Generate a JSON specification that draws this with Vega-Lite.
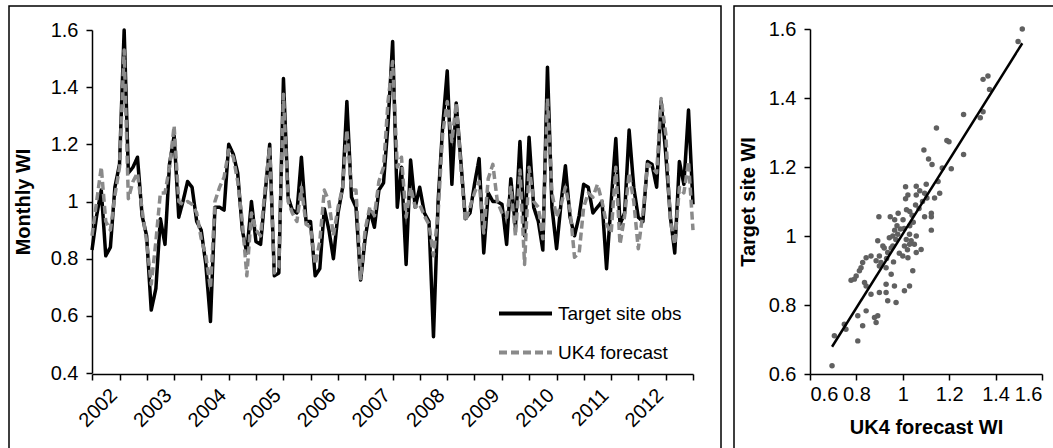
{
  "$schema": "https://vega.github.io/schema/vega-lite/v6.json",
  "padding": {"left": 8, "top": 5, "right": 0, "bottom": 0},
  "autosize": {"type": "pad"},
  "spacing": 11,
  "config": {
    "view": {"stroke": "#000000", "strokeWidth": 1.5},
    "font": "Liberation Sans",
    "axis": {"grid": false, "domainColor": "#000000", "domainWidth": 1.5, "tickColor": "#000000", "tickWidth": 1.5, "tickSize": 6, "labelColor": "#000000", "labelFont": "Liberation Sans", "labelFontSize": 20, "titleFont": "Liberation Sans", "titleFontSize": 20, "titleFontWeight": "bold", "titleColor": "#000000"},
    "legend": {"labelFont": "Liberation Sans", "labelFontSize": 19, "labelColor": "#000000"}
  },
  "datasets": {
    "ts": [
      {"m":"2001-07","obs":0.83,"fc":0.88},{"m":"2001-08","obs":0.95,"fc":1.0},{"m":"2001-09","obs":1.04,"fc":1.12},{"m":"2001-10","obs":0.81,"fc":0.93},{"m":"2001-11","obs":0.84,"fc":0.9},{"m":"2001-12","obs":1.05,"fc":1.02},
      {"m":"2002-01","obs":1.13,"fc":1.12},{"m":"2002-02","obs":1.6,"fc":1.53},{"m":"2002-03","obs":1.1,"fc":1.01},{"m":"2002-04","obs":1.12,"fc":1.07},{"m":"2002-05","obs":1.155,"fc":1.1},{"m":"2002-06","obs":0.95,"fc":0.97},{"m":"2002-07","obs":0.88,"fc":0.86},{"m":"2002-08","obs":0.62,"fc":0.71},{"m":"2002-09","obs":0.695,"fc":0.86},{"m":"2002-10","obs":0.94,"fc":1.03},{"m":"2002-11","obs":0.85,"fc":1.03},{"m":"2002-12","obs":1.13,"fc":1.12},
      {"m":"2003-01","obs":1.23,"fc":1.265},{"m":"2003-02","obs":0.945,"fc":1.0},{"m":"2003-03","obs":1.0,"fc":0.99},{"m":"2003-04","obs":1.07,"fc":1.0},{"m":"2003-05","obs":1.05,"fc":0.99},{"m":"2003-06","obs":0.93,"fc":0.96},{"m":"2003-07","obs":0.9,"fc":0.87},{"m":"2003-08","obs":0.78,"fc":0.81},{"m":"2003-09","obs":0.58,"fc":0.695},{"m":"2003-10","obs":0.98,"fc":1.0},{"m":"2003-11","obs":0.98,"fc":1.05},{"m":"2003-12","obs":0.97,"fc":1.085},
      {"m":"2004-01","obs":1.2,"fc":1.18},{"m":"2004-02","obs":1.165,"fc":1.155},{"m":"2004-03","obs":1.1,"fc":1.07},{"m":"2004-04","obs":0.9,"fc":0.93},{"m":"2004-05","obs":0.82,"fc":0.74},{"m":"2004-06","obs":1.0,"fc":0.96},{"m":"2004-07","obs":0.86,"fc":0.9},{"m":"2004-08","obs":0.85,"fc":0.88},{"m":"2004-09","obs":1.03,"fc":1.05},{"m":"2004-10","obs":1.2,"fc":1.19},{"m":"2004-11","obs":0.74,"fc":0.75},{"m":"2004-12","obs":0.75,"fc":0.77},
      {"m":"2005-01","obs":1.43,"fc":1.375},{"m":"2005-02","obs":1.015,"fc":1.0},{"m":"2005-03","obs":0.97,"fc":0.96},{"m":"2005-04","obs":0.96,"fc":0.93},{"m":"2005-05","obs":1.155,"fc":1.05},{"m":"2005-06","obs":0.93,"fc":0.92},{"m":"2005-07","obs":0.93,"fc":0.91},{"m":"2005-08","obs":0.74,"fc":0.78},{"m":"2005-09","obs":0.765,"fc":0.86},{"m":"2005-10","obs":0.975,"fc":1.04},{"m":"2005-11","obs":0.9,"fc":1.0},{"m":"2005-12","obs":0.8,"fc":0.88},
      {"m":"2006-01","obs":0.96,"fc":0.98},{"m":"2006-02","obs":1.05,"fc":1.05},{"m":"2006-03","obs":1.35,"fc":1.25},{"m":"2006-04","obs":1.015,"fc":1.04},{"m":"2006-05","obs":0.98,"fc":1.04},{"m":"2006-06","obs":0.725,"fc":0.73},{"m":"2006-07","obs":0.87,"fc":0.9},{"m":"2006-08","obs":0.97,"fc":0.98},{"m":"2006-09","obs":0.91,"fc":0.95},{"m":"2006-10","obs":1.04,"fc":1.07},{"m":"2006-11","obs":1.065,"fc":1.12},{"m":"2006-12","obs":1.27,"fc":1.35},
      {"m":"2007-01","obs":1.56,"fc":1.49},{"m":"2007-02","obs":0.98,"fc":1.12},{"m":"2007-03","obs":1.12,"fc":1.155},{"m":"2007-04","obs":0.78,"fc":0.945},{"m":"2007-05","obs":1.145,"fc":1.05},{"m":"2007-06","obs":0.98,"fc":0.98},{"m":"2007-07","obs":1.05,"fc":0.99},{"m":"2007-08","obs":0.96,"fc":0.95},{"m":"2007-09","obs":0.93,"fc":0.92},{"m":"2007-10","obs":0.527,"fc":0.81},{"m":"2007-11","obs":1.0,"fc":0.96},{"m":"2007-12","obs":1.26,"fc":1.235},
      {"m":"2008-01","obs":1.457,"fc":1.35},{"m":"2008-02","obs":1.06,"fc":1.21},{"m":"2008-03","obs":1.345,"fc":1.345},{"m":"2008-04","obs":1.14,"fc":1.12},{"m":"2008-05","obs":0.94,"fc":0.93},{"m":"2008-06","obs":0.96,"fc":0.98},{"m":"2008-07","obs":1.06,"fc":1.03},{"m":"2008-08","obs":1.15,"fc":1.07},{"m":"2008-09","obs":0.82,"fc":0.89},{"m":"2008-10","obs":1.03,"fc":1.08},{"m":"2008-11","obs":1.0,"fc":1.13},{"m":"2008-12","obs":1.0,"fc":1.0},
      {"m":"2009-01","obs":0.99,"fc":0.96},{"m":"2009-02","obs":0.85,"fc":0.945},{"m":"2009-03","obs":1.08,"fc":1.05},{"m":"2009-04","obs":0.91,"fc":0.88},{"m":"2009-05","obs":1.21,"fc":1.11},{"m":"2009-06","obs":0.88,"fc":0.78},{"m":"2009-07","obs":1.225,"fc":1.12},{"m":"2009-08","obs":0.98,"fc":1.0},{"m":"2009-09","obs":0.93,"fc":0.98},{"m":"2009-10","obs":0.83,"fc":0.87},{"m":"2009-11","obs":1.47,"fc":1.36},{"m":"2009-12","obs":0.98,"fc":1.03},
      {"m":"2010-01","obs":0.835,"fc":0.945},{"m":"2010-02","obs":1.0,"fc":0.99},{"m":"2010-03","obs":1.125,"fc":1.05},{"m":"2010-04","obs":0.945,"fc":0.97},{"m":"2010-05","obs":0.88,"fc":0.805},{"m":"2010-06","obs":0.95,"fc":0.82},{"m":"2010-07","obs":1.06,"fc":0.98},{"m":"2010-08","obs":1.05,"fc":1.03},{"m":"2010-09","obs":0.96,"fc":1.015},{"m":"2010-10","obs":0.98,"fc":1.06},{"m":"2010-11","obs":1.0,"fc":1.0},{"m":"2010-12","obs":0.765,"fc":0.92},
      {"m":"2011-01","obs":1.0,"fc":0.89},{"m":"2011-02","obs":1.22,"fc":1.12},{"m":"2011-03","obs":0.92,"fc":0.85},{"m":"2011-04","obs":0.96,"fc":0.95},{"m":"2011-05","obs":1.25,"fc":1.1},{"m":"2011-06","obs":1.05,"fc":1.0},{"m":"2011-07","obs":0.945,"fc":0.835},{"m":"2011-08","obs":0.93,"fc":0.96},{"m":"2011-09","obs":1.14,"fc":1.13},{"m":"2011-10","obs":1.13,"fc":1.12},{"m":"2011-11","obs":1.05,"fc":1.1},{"m":"2011-12","obs":1.35,"fc":1.36},
      {"m":"2012-01","obs":1.165,"fc":1.235},{"m":"2012-02","obs":0.945,"fc":0.93},{"m":"2012-03","obs":0.82,"fc":0.85},{"m":"2012-04","obs":1.14,"fc":1.05},{"m":"2012-05","obs":1.06,"fc":1.03},{"m":"2012-06","obs":1.32,"fc":1.14},{"m":"2012-07","obs":0.99,"fc":0.9}
    ],
    "sc": [
      {"fc":1.515,"obs":1.6},{"fc":1.497,"obs":1.564},{"fc":1.346,"obs":1.454},{"fc":1.367,"obs":1.464},{"fc":1.374,"obs":1.425},{"fc":1.346,"obs":1.36},{"fc":1.334,"obs":1.343},{"fc":1.262,"obs":1.352},{"fc":1.145,"obs":1.313},{"fc":1.19,"obs":1.277},{"fc":1.199,"obs":1.273},{"fc":1.262,"obs":1.236},{"fc":1.091,"obs":1.249},{"fc":1.111,"obs":1.223},{"fc":1.126,"obs":1.207},{"fc":1.17,"obs":1.197},{"fc":1.209,"obs":1.195},{"fc":1.152,"obs":1.158},{"fc":1.012,"obs":1.143},{"fc":1.058,"obs":1.144},{"fc":1.101,"obs":1.15},{"fc":1.073,"obs":1.131},{"fc":1.094,"obs":1.124},{"fc":1.159,"obs":1.124},{"fc":1.022,"obs":1.119},{"fc":1.058,"obs":1.119},{"fc":1.104,"obs":1.11},{"fc":1.137,"obs":1.11},{"fc":1.012,"obs":1.108},{"fc":1.055,"obs":1.09},{"fc":1.016,"obs":1.076},{"fc":1.03,"obs":1.071},{"fc":0.98,"obs":1.066},{"fc":0.897,"obs":1.056},{"fc":0.946,"obs":1.056},{"fc":0.965,"obs":1.047},{"fc":1.001,"obs":1.047},{"fc":1.123,"obs":1.066},{"fc":1.123,"obs":1.056},{"fc":1.094,"obs":1.056},{"fc":0.965,"obs":1.017},{"fc":1.006,"obs":1.022},{"fc":1.123,"obs":1.017},
      {"fc":0.942,"obs":0.995},{"fc":0.957,"obs":1.0},{"fc":0.978,"obs":1.005},{"fc":1.029,"obs":1.005},{"fc":1.058,"obs":1.0},{"fc":1.036,"obs":0.986},{"fc":1.007,"obs":0.971},{"fc":1.029,"obs":0.976},{"fc":1.05,"obs":0.976},{"fc":1.079,"obs":0.961},{"fc":1.058,"obs":0.952},{"fc":1.0,"obs":0.942},{"fc":1.022,"obs":0.937},{"fc":0.957,"obs":0.971},{"fc":0.914,"obs":0.971},{"fc":0.892,"obs":0.986},{"fc":0.935,"obs":0.952},{"fc":0.899,"obs":0.942},{"fc":0.885,"obs":0.928},{"fc":0.906,"obs":0.923},{"fc":0.863,"obs":0.942},{"fc":0.842,"obs":0.937},{"fc":0.827,"obs":0.923},{"fc":0.82,"obs":0.908},{"fc":0.813,"obs":0.899},{"fc":0.799,"obs":0.884},{"fc":0.777,"obs":0.872},{"fc":0.791,"obs":0.875},{"fc":0.835,"obs":0.865},{"fc":0.842,"obs":0.855},{"fc":0.899,"obs":0.913},{"fc":0.928,"obs":0.908},{"fc":0.95,"obs":0.889},{"fc":0.928,"obs":0.86},{"fc":0.964,"obs":0.855},{"fc":1.007,"obs":0.841},{"fc":1.029,"obs":0.855},{"fc":1.043,"obs":0.899},{"fc":0.899,"obs":0.836},{"fc":0.928,"obs":0.836},{"fc":0.863,"obs":0.831},{"fc":0.935,"obs":0.812},{"fc":0.971,"obs":0.807},{"fc":0.842,"obs":0.783},{"fc":0.892,"obs":0.769},{"fc":0.878,"obs":0.764},{"fc":0.885,"obs":0.749},{"fc":0.806,"obs":0.769},{"fc":0.827,"obs":0.74},{"fc":0.748,"obs":0.744},{"fc":0.755,"obs":0.73},{"fc":0.705,"obs":0.711},{"fc":0.806,"obs":0.696},{"fc":0.695,"obs":0.624},
      {"fc":0.97,"obs":0.99},{"fc":0.99,"obs":1.02},{"fc":1.03,"obs":1.03},{"fc":1.045,"obs":1.04},{"fc":0.95,"obs":0.965},{"fc":0.985,"obs":0.95},{"fc":1.015,"obs":0.99},{"fc":0.93,"obs":0.935},{"fc":0.96,"obs":0.925},{"fc":1.04,"obs":1.06},{"fc":1.07,"obs":1.08},{"fc":1.085,"obs":1.1},{"fc":0.92,"obs":0.965},{"fc":1.02,"obs":0.96},{"fc":0.975,"obs":1.03}
    ]
  },
  "hconcat": [
    {
      "width": 712,
      "height": 443,
      "data": {"name": "ts"},
      "transform": [{"fold": ["obs", "fc"], "as": ["series", "value"]}],
      "mark": {"type": "line", "strokeWidth": 3.5, "strokeJoin": "round"},
      "encoding": {
        "x": {
          "field": "m", "type": "temporal",
          "scale": {"type": "utc", "domain": [{"year": 2001, "month": 7, "date": 1, "utc": true}, {"year": 2012, "month": 7, "date": 1, "utc": true}], "range": [83, 684], "nice": false},
          "axis": {"title": null, "offset": -75, "tickCount": {"interval": "month", "step": 6},
            "labelExpr": "utcmonth(datum.value) === 0 ? '' + utcyear(datum.value) : ''", "labelAngle": -45, "labelAlign": "right", "labelBaseline": "middle", "labelPadding": 12, "labelOffset": -6, "labelOverlap": false, "labelBound": false, "labelFlush": false}
        },
        "y": {
          "field": "value", "type": "quantitative",
          "scale": {"domain": [0.4, 1.6], "range": [367, 24], "nice": false, "zero": false},
          "axis": {"title": "Monthly WI", "offset": -83, "values": [0.4, 0.6, 0.8, 1, 1.2, 1.4, 1.6], "format": "~g", "labelPadding": 8, "titlePadding": 17}
        },
        "color": {
          "field": "series", "type": "nominal",
          "scale": {"domain": ["obs", "fc"], "range": ["#000000", "#8a8a8a"]},
          "legend": {"orient": "none", "legendX": 488, "legendY": 279, "title": null, "padding": 0, "symbolType": "stroke", "symbolSize": 2809, "symbolStrokeWidth": 4, "rowPadding": -25, "labelOffset": 4, "labelExpr": "datum.value === 'obs' ? 'Target site obs' : 'UK4 forecast'"}
        },
        "strokeDash": {
          "field": "series", "type": "nominal",
          "scale": {"domain": ["obs", "fc"], "range": [[1, 0], [8, 4]]},
          "legend": {"orient": "none", "legendX": 488, "legendY": 279, "title": null, "padding": 0, "symbolType": "stroke", "symbolSize": 2809, "symbolStrokeWidth": 4, "rowPadding": -25, "labelOffset": 4, "labelExpr": "datum.value === 'obs' ? 'Target site obs' : 'UK4 forecast'"}
        }
      }
    },
    {
      "width": 322,
      "height": 443,
      "data": {"name": "sc"},
      "layer": [
        {
          "mark": {"type": "point", "filled": true, "size": 30, "opacity": 1, "color": "#606060"},
          "encoding": {
            "x": {"field": "fc", "type": "quantitative", "scale": {"domain": [0.6, 1.6], "range": [76, 308], "nice": false, "zero": false},
              "axis": {"title": "UK4 forecast WI", "offset": -75, "values": [0.6, 0.8, 1, 1.2, 1.4, 1.6], "format": "~g", "labelPadding": 4, "titlePadding": 13}},
            "y": {"field": "obs", "type": "quantitative", "scale": {"domain": [0.6, 1.6], "range": [368, 23], "nice": false, "zero": false},
              "axis": {"title": "Target site WI", "offset": -76, "values": [0.6, 0.8, 1, 1.2, 1.4, 1.6], "format": "~g", "labelPadding": 8, "titlePadding": 10}}
          }
        },
        {
          "transform": [{"regression": "obs", "on": "fc"}],
          "mark": {"type": "line", "color": "#000000", "strokeWidth": 2.5},
          "encoding": {
            "x": {"field": "fc", "type": "quantitative", "scale": {"domain": [0.6, 1.6], "range": [76, 308], "nice": false, "zero": false}},
            "y": {"field": "obs", "type": "quantitative", "scale": {"domain": [0.6, 1.6], "range": [368, 23], "nice": false, "zero": false}}
          }
        }
      ]
    }
  ]
}
